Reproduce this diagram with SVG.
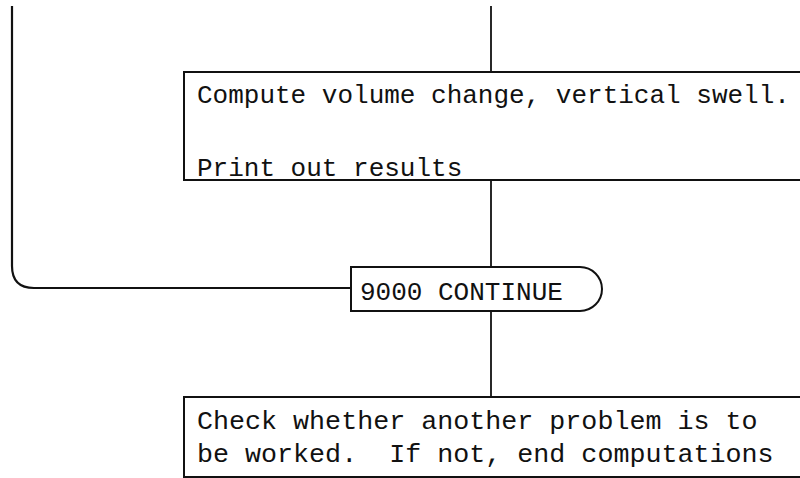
<svg xmlns="http://www.w3.org/2000/svg" width="800" height="478" viewBox="0 0 800 478">
<style>
.box{fill:#fff;stroke:#111;stroke-width:2}
.ln{fill:none;stroke:#111;stroke-width:1.8}
.t{font-family:"Liberation Mono","DejaVu Sans Mono",monospace;font-size:26px;fill:#111;white-space:pre}
.t2{font-size:26.7px}
</style>
<rect width="800" height="478" fill="#fff"/>
<g id="connectors">
<path class="ln" d="M12,6 V266 Q12,288 34,288 H351" style="stroke-width:2.2"/>
<line class="ln" x1="491" y1="6" x2="491" y2="72"/>
<line class="ln" x1="491" y1="180" x2="491" y2="267"/>
<line class="ln" x1="491" y1="311" x2="491" y2="397"/>
</g>
<g id="compute">
<rect class="box" x="184" y="72" width="630" height="108"/>
<text class="t" x="197" y="103">Compute volume change, vertical swell.</text>
<text class="t" x="197" y="176">Print out results</text>
</g>
<g id="continue">
<path class="box" d="M351,267 H580 A22,22 0 0 1 580,311 H351 Z"/>
<text class="t" x="360" y="300">9000 CONTINUE</text>
</g>
<g id="check">
<rect class="box" x="184" y="397" width="630" height="80"/>
<text class="t t2" x="197" y="429">Check whether another problem is to</text>
<text class="t t2" x="197" y="462" xml:space="preserve">be worked.  If not, end computations</text>
</g>
</svg>
